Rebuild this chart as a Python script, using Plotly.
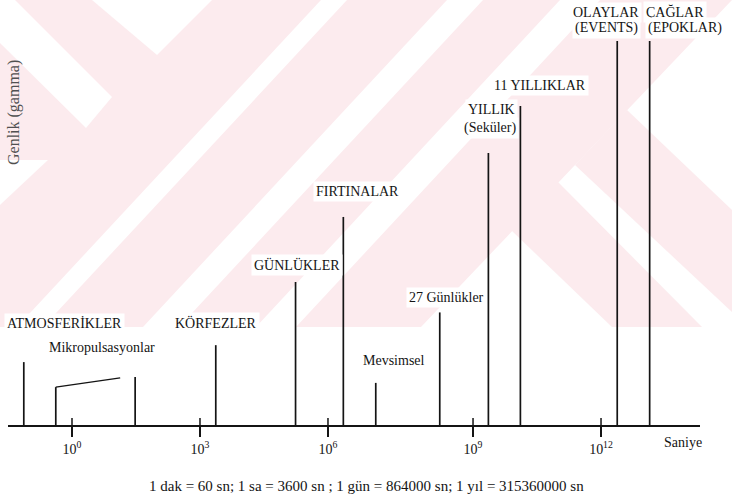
import plotly.graph_objects as go

# ---------------------------------------------------------------------------
# Data: geomagnetic variations placed along a schematic period axis.
# Positions are in decades of seconds as laid out on the schematic scale,
# amplitudes are relative (tallest = 100).
# ---------------------------------------------------------------------------
tick_pos = [0, 3, 6, 9.4, 12.4]
tick_text = ["10<sup>0</sup>", "10<sup>3</sup>", "10<sup>6</sup>",
             "10<sup>9</sup>", "10<sup>12</sup>"]

phenomena = ["ATMOSFERİKLER", "Mikropulsasyonlar (başlangıç)", "Mikropulsasyonlar (bitiş)",
             "KÖRFEZLER", "GÜNLÜKLER", "FIRTINALAR", "Mevsimsel", "27 Günlükler",
             "YILLIK (Seküler)", "11 YILLIKLAR", "OLAYLAR (EVENTS)", "ÇAĞLAR (EPOKLAR)"]
period_pos = [-1.13, -0.38, 1.48, 3.37, 5.24, 6.36, 7.12, 8.62, 9.76, 10.51, 12.78, 13.54]
amplitude = [16.6, 10.1, 12.7, 21.0, 37.4, 54.3, 11.2, 29.5, 70.9, 83.1, 100, 100]

# upper edge of the micropulsation band
band_pos = [-0.38, 1.13]
band_amp = [10.1, 12.5]

axis_note = "1 dak = 60 sn; 1 sa = 3600 sn ; 1 gün = 864000 sn; 1 yıl = 315360000 sn"

# ---------------------------------------------------------------------------
# Layout constants
# ---------------------------------------------------------------------------
W, H = 732, 496
ML, MR = 8, 32
X_RANGE = [-1.5, 14.72]
Y_RANGE = [-18.18, 110.65]
SERIF = "Liberation Serif"
INK = "#141414"
PINK = "#fcebee"


def to_paper(pts):
    """Convert pixel points of the page into paper coordinates."""
    return [((px - ML) / (W - ML - MR), 1 - py / H) for px, py in pts]


def poly_path(pts):
    pp = to_paper(pts)
    return "M " + " L ".join(f"{x:.5f},{y:.5f}" for x, y in pp) + " Z"


# pale diagonal backdrop pattern (page pixels)
backdrop = [
    (PINK, [(0, 0), (732, 0), (732, 327), (0, 327)]),
    ("white", [(0, 0), (15, 0), (112, 97), (86, 128), (0, 43)]),
    ("white", [(92, 0), (157, 55), (212, 0)]),
    ("white", [(0, 160), (48, 160), (0, 205)]),
    ("white", [(321, 0), (347, 0), (43, 327), (17, 327)]),
    ("white", [(447, 0), (483, 0), (179, 327), (143, 327)]),
    ("white", [(560, 0), (600, 0), (296, 327), (256, 327)]),
    ("white", [(732, 0), (732, 327), (421, 327)]),
    (PINK, [(575, 165), (627, 110), (732, 210), (732, 312)]),
    (PINK, [(511, 230), (558, 182), (702, 327), (612, 327)]),
]

shapes = [dict(type="path", xref="paper", yref="paper", path=poly_path(pts),
               fillcolor=col, line=dict(width=0), layer="below")
          for col, pts in backdrop]

fig = go.Figure()

# vertical amplitude bars
xs, ys = [], []
for p, a in zip(period_pos, amplitude):
    xs += [p, p, None]
    ys += [0, a, None]
fig.add_trace(go.Scatter(x=xs, y=ys, mode="lines",
                         line=dict(color=INK, width=1.7), hoverinfo="skip",
                         showlegend=False))

# micropulsation band edge
fig.add_trace(go.Scatter(x=band_pos, y=band_amp, mode="lines",
                         line=dict(color=INK, width=1.5), hoverinfo="skip",
                         showlegend=False))

# tick stubs above the period axis
tx, ty = [], []
for t in tick_pos:
    tx += [t, t, None]
    ty += [0, 2.1, None]
fig.add_trace(go.Scatter(x=tx, y=ty, mode="lines",
                         line=dict(color=INK, width=1.5), hoverinfo="skip",
                         showlegend=False))

# labels: (text, bar index, x offset px, y offset px, white box)
labels = [
    ("ATMOSFERİKLER", 0, 41, 39, True),
    ("Mikropulsasyonlar", 1, 46, 40, False),
    ("KÖRFEZLER", 3, 0, 22, True),
    ("GÜNLÜKLER", 4, 1.5, 17, True),
    ("FIRTINALAR", 5, 14, 25, True),
    ("Mevsimsel", 6, 18, 22, False),
    ("27 Günlükler", 7, 7, 15, True),
    ("YILLIK", 8, 3, 44, True),
    ("(Seküler)", 8, 2, 25, True),
    ("11 YILLIKLAR", 9, 20, 21, True),
    ("OLAYLAR", 10, -11, 29, True),
    ("(EVENTS)", 10, -11, 13, True),
    ("ÇAĞLAR", 11, 25, 29, True),
    ("(EPOKLAR)", 11, 35, 13, True),
]
annotations = []
for text, i, dx, dy, box in labels:
    annotations.append(dict(
        x=period_pos[i], y=amplitude[i], xref="x", yref="y", text=text,
        showarrow=False, xanchor="center", yanchor="middle",
        xshift=dx, yshift=dy, font=dict(family=SERIF, size=14, color=INK),
        bgcolor="white" if box else None, borderpad=2))

annotations += [
    dict(x=14.32, y=-4.4, xref="x", yref="y", text="Saniye", showarrow=False,
         xanchor="center", yanchor="middle",
         font=dict(family=SERIF, size=14, color=INK)),
    dict(x=(366 - ML) / (W - ML - MR), y=1 - 486 / H, xref="paper", yref="paper",
         text=axis_note, showarrow=False, xanchor="center", yanchor="middle",
         font=dict(family=SERIF, size=15, color=INK)),
    dict(x=(14 - ML) / (W - ML - MR), y=1 - 113 / H, xref="paper", yref="paper",
         text="Genlik (gamma)", textangle=-90, showarrow=False,
         xanchor="center", yanchor="middle",
         font=dict(family=SERIF, size=16, color="#505050")),
]

axis_y = (0 - Y_RANGE[0]) / (Y_RANGE[1] - Y_RANGE[0])

fig.update_layout(
    width=W, height=H,
    margin=dict(l=ML, r=MR, t=0, b=0),
    paper_bgcolor="white", plot_bgcolor="rgba(0,0,0,0)",
    showlegend=False,
    font=dict(family=SERIF),
    shapes=shapes,
    annotations=annotations,
    xaxis=dict(range=X_RANGE, anchor="free", position=axis_y,
               showline=True, linecolor=INK, linewidth=1.5,
               showgrid=False, zeroline=False,
               tickmode="array", tickvals=tick_pos, ticktext=tick_text,
               ticks="outside", ticklen=10, tickwidth=1.5, tickcolor=INK,
               tickfont=dict(family=SERIF, size=14, color=INK)),
    yaxis=dict(range=Y_RANGE, visible=False, showgrid=False, zeroline=False),
)

fig.write_html("out.html")
